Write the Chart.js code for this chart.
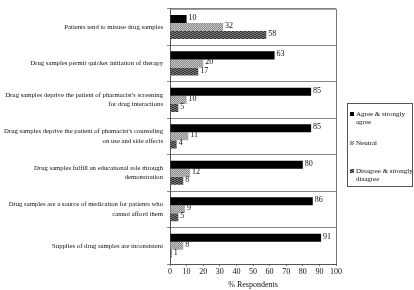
<!DOCTYPE html>
<html>
<head>
<meta charset="utf-8">
<script src="https://cdn.jsdelivr.net/npm/chart.js@4/dist/chart.umd.min.js"></script>
<style>
  body { margin: 0; background: #fff; }
  #wrap { position: relative; width: 414px; height: 290px; }
  #legend {
    position: absolute; left: 347px; top: 103px; width: 66px; height: 84px;
    border: 1px solid #555; font: 7px "Liberation Serif", serif; color: #111;
    box-sizing: border-box;
  }
  .item { position: absolute; left: 2px; width: 68px; line-height: 8px; padding-left: 6px; box-sizing: border-box; }
  .item canvas { position: absolute; left: 0; top: 2px; }
</style>
</head>
<body>
<div id="wrap">
  <canvas id="chart" width="414" height="290"></canvas>
  <div id="legend"></div>
</div>
<script>
const statements = [
  ['Patients tend to misuse drug samples'],
  ['Drug samples permit quicker initiation of therapy'],
  ["Drug samples deprive the patient of pharmacist's screening", 'for drug interactions'],
  ["Drug samples deprive the patient of phamacist's counseling", 'on use and side effects'],
  ['Drug samples fulfill an educational role through', 'demonstration'],
  ['Drug samples are a source of medication for patients who', 'cannot afford them'],
  ['Supplies of drug samples are inconsistent']
]
const agree = [10, 63, 85, 85, 80, 86, 91]
const neutral = [32, 20, 10, 11, 12, 9, 8]
const disagree = [58, 17, 5, 4, 8, 5, 1]
const xTicks = [0, 10, 20, 30, 40, 50, 60, 70, 80, 90, 100]

const serif = '"Liberation Serif", serif'

function makePattern(bg, fg, cells) {
  const c = document.createElement('canvas')
  c.width = 4; c.height = 4
  const g = c.getContext('2d')
  g.fillStyle = bg
  g.fillRect(0, 0, 4, 4)
  g.fillStyle = fg
  cells.forEach(p => g.fillRect(p[0], p[1], 1, 1))
  return g.createPattern(c, 'repeat')
}

const neutralFill = makePattern('#8c8c8c', '#c4c4c4', [[0,0],[2,0],[1,1],[3,1],[0,2],[2,2],[1,3],[3,3]])
const disagreeFill = makePattern('#333', '#7a7a7a', [[0,0],[1,0],[2,1],[3,1],[0,2],[1,2],[2,3],[3,3]])

const series = [
  { label: 'Agree & strongly agree', data: agree, fill: '#000' },
  { label: 'Neutral', data: neutral, fill: neutralFill },
  { label: 'Disagree & strongly disagree', data: disagree, fill: disagreeFill }
]

const valueLabels = {
  id: 'valueLabels',
  afterDatasetsDraw(chart) {
    const ctx = chart.ctx
    ctx.save()
    ctx.font = '8px ' + serif
    ctx.fillStyle = '#111'
    ctx.textBaseline = 'middle'
    chart.data.datasets.forEach((ds, i) => {
      chart.getDatasetMeta(i).data.forEach((bar, j) => {
        ctx.fillText(ds.data[j], bar.x + 2, bar.y - 1)
      })
    })
    ctx.restore()
  }
}

const frame = {
  id: 'frame',
  afterDraw(chart) {
    const a = chart.chartArea
    const ctx = chart.ctx
    ctx.save()
    ctx.strokeStyle = '#777'
    ctx.lineWidth = 1
    ctx.beginPath()
    ctx.moveTo(a.left, a.top + 0.5)
    ctx.lineTo(a.right + 0.5, a.top + 0.5)
    ctx.lineTo(a.right + 0.5, a.bottom)
    ctx.stroke()
    ctx.restore()
  }
}

new Chart(document.getElementById('chart'), {
  type: 'bar',
  data: {
    labels: statements,
    datasets: series.map(s => ({
      label: s.label,
      data: s.data,
      backgroundColor: s.fill,
      borderWidth: 0,
      barPercentage: 1,
      categoryPercentage: 0.66
    }))
  },
  options: {
    indexAxis: 'y',
    responsive: false,
    animation: false,
    layout: { padding: { top: 1, right: 78, bottom: 0, left: 0 } },
    plugins: { legend: { display: false }, tooltip: { enabled: false } },
    scales: {
      x: {
        min: 0, max: 100,
        afterBuildTicks: s => { s.ticks = xTicks.map(v => ({ value: v })) },
        afterFit: s => { s.height = 26 },
        grid: { display: true, drawOnChartArea: false, tickLength: 2, color: '#777' },
        border: { color: '#555' },
        ticks: { color: '#111', font: { family: serif, size: 8 }, padding: 1, maxRotation: 0 },
        title: { display: true, text: '% Respondents', color: '#111', font: { family: serif, size: 8 }, padding: { top: 3, bottom: 0 } }
      },
      y: {
        afterFit: s => { s.width = 170 },
        grid: { color: '#888', offset: true, tickLength: 3 },
        border: { color: '#555' },
        ticks: { color: '#111', font: { family: serif, size: 6.7, lineHeight: 1.4 }, padding: 4 }
      }
    }
  },
  plugins: [valueLabels, frame]
})

const legend = document.getElementById('legend')
const tops = [6, 35, 63]
series.forEach((s, i) => {
  const div = document.createElement('div')
  div.className = 'item'
  div.style.top = tops[i] + 'px'
  const sw = document.createElement('canvas')
  sw.width = 4; sw.height = 4
  const g = sw.getContext('2d')
  g.fillStyle = s.fill
  g.fillRect(0, 0, 4, 4)
  div.appendChild(sw)
  div.appendChild(document.createTextNode(s.label))
  legend.appendChild(div)
})
</script>
</body>
</html>
